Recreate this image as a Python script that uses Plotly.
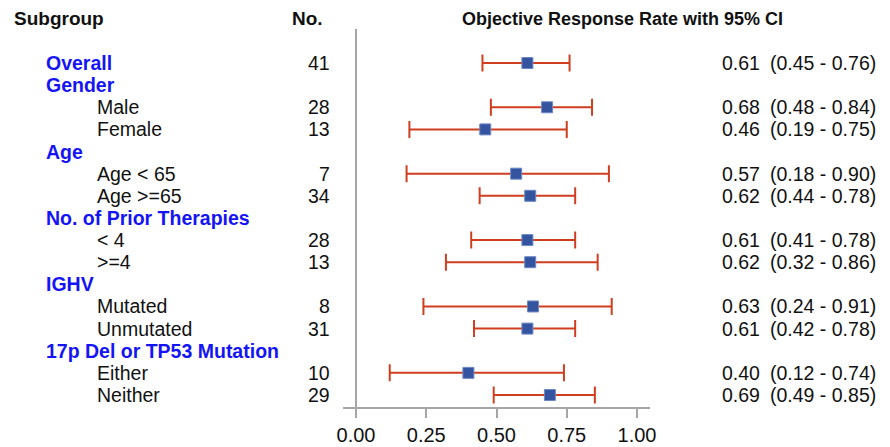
import plotly.graph_objects as go

labels = ["Overall", "Gender", "Male", "Female", "Age", "Age < 65", "Age >=65",
          "No. of Prior Therapies", "< 4", ">=4", "IGHV", "Mutated", "Unmutated",
          "17p Del or TP53 Mutation", "Either", "Neither"]
is_group = [True, True, False, False, True, False, False, True, False, False,
            True, False, False, True, False, False]
n_vals = ["41", "", "28", "13", "", "7", "34", "", "28", "13", "", "8", "31", "", "10", "29"]
est = [0.61, None, 0.68, 0.46, None, 0.57, 0.62, None, 0.61, 0.62, None, 0.63, 0.61, None, 0.40, 0.69]
lo = [0.45, None, 0.48, 0.19, None, 0.18, 0.44, None, 0.41, 0.32, None, 0.24, 0.42, None, 0.12, 0.49]
hi = [0.76, None, 0.84, 0.75, None, 0.90, 0.78, None, 0.78, 0.86, None, 0.91, 0.78, None, 0.74, 0.85]
tick_vals = [0, 0.25, 0.5, 0.75, 1.0]
tick_text = ["0.00", "0.25", "0.50", "0.75", "1.00"]

W, H = 890, 447
PL, PR = 343, 650        # plot area px
PT, PB = 29, 407
rows = list(range(len(labels)))
ys = [r for r, e in zip(rows, est) if e is not None]
xs = [e for e in est if e is not None]
plus = [h - e for e, h in zip(est, hi) if e is not None]
minus = [e - l for e, l in zip(est, lo) if e is not None]

FONT = "Liberation Sans, Arial, sans-serif"
fig = go.Figure()
fig.add_trace(go.Scatter(
    x=xs, y=ys, mode="markers",
    marker=dict(symbol="square", size=11, color="#3454a0",
                line=dict(color="#6d88c4", width=1)),
    error_x=dict(type="data", symmetric=False, array=plus, arrayminus=minus,
                 color="#cf3f1f", thickness=2, width=8.5),
    showlegend=False, hoverinfo="skip"))


def px2paper(px):
    return (px - PL) / (PR - PL)


HY = 1 + (PT - 19) / (PB - PT)
ann = []
ann.append(dict(x=px2paper(12), y=HY, xref="paper", yref="paper", text="<b>Subgroup</b>",
                showarrow=False, xanchor="left", yanchor="middle",
                font=dict(family=FONT, size=19, color="#111")))
ann.append(dict(x=px2paper(325), y=HY, xref="paper", yref="paper",
                text="<b>No.</b>", showarrow=False, xanchor="right", yanchor="middle",
                font=dict(family=FONT, size=19, color="#111")))
ann.append(dict(x=px2paper(460), y=HY, xref="paper", yref="paper",
                text="<b>Objective Response Rate with 95% CI</b>", showarrow=False,
                xanchor="left", yanchor="middle",
                font=dict(family=FONT, size=18, color="#111")))

for r, lab, g, nv, e, l, h in zip(rows, labels, is_group, n_vals, est, lo, hi):
    if g:
        ann.append(dict(x=px2paper(44), y=r, xref="paper", yref="y", text="<b>%s</b>" % lab,
                        showarrow=False, xanchor="left", yanchor="middle",
                        font=dict(family=FONT, size=19.5, color="#1414f5")))
    else:
        ann.append(dict(x=px2paper(95), y=r, xref="paper", yref="y", text=lab,
                        showarrow=False, xanchor="left", yanchor="middle",
                        font=dict(family=FONT, size=19.5, color="#111")))
    if nv:
        ann.append(dict(x=px2paper(332), y=r, xref="paper", yref="y", text=nv,
                        showarrow=False, xanchor="right", yanchor="middle",
                        font=dict(family=FONT, size=19.5, color="#111")))
    if e is not None:
        ann.append(dict(x=px2paper(720), y=r, xref="paper", yref="y",
                        text="%.2f" % e,
                        showarrow=False, xanchor="left", yanchor="middle",
                        font=dict(family=FONT, size=19.5, color="#111")))
        ann.append(dict(x=px2paper(768), y=r, xref="paper", yref="y",
                        text="(%.2f - %.2f)" % (l, h),
                        showarrow=False, xanchor="left", yanchor="middle",
                        font=dict(family=FONT, size=19.5, color="#111")))

fig.update_layout(
    width=W, height=H,
    margin=dict(l=PL, r=W - PR, t=PT, b=H - PB, pad=0),
    plot_bgcolor="white", paper_bgcolor="white",
    annotations=ann,
    shapes=[dict(type="line", xref="x", yref="paper", x0=0, x1=0, y0=0, y1=1,
                 line=dict(color="#a6a6a6", width=2))],
    xaxis=dict(range=[-13 / 281, 1 + 13 / 281], showgrid=False, zeroline=False,
               automargin=False,
               showline=True, linecolor="#a6a6a6", linewidth=2,
               ticks="outside", ticklen=9, tickwidth=2, tickcolor="#a6a6a6",
               tickvals=tick_vals, ticktext=tick_text,
               tickfont=dict(family=FONT, size=20, color="#111")),
    yaxis=dict(range=[15 + 12 / 22.13, -34 / 22.13], showgrid=False, zeroline=False,
               automargin=False,
               showline=False, showticklabels=False, ticks=""),
)
fig.write_html("out.html", config={"displayModeBar": False},
               post_script="document.body.style.margin='0';document.body.style.overflow='hidden';")
